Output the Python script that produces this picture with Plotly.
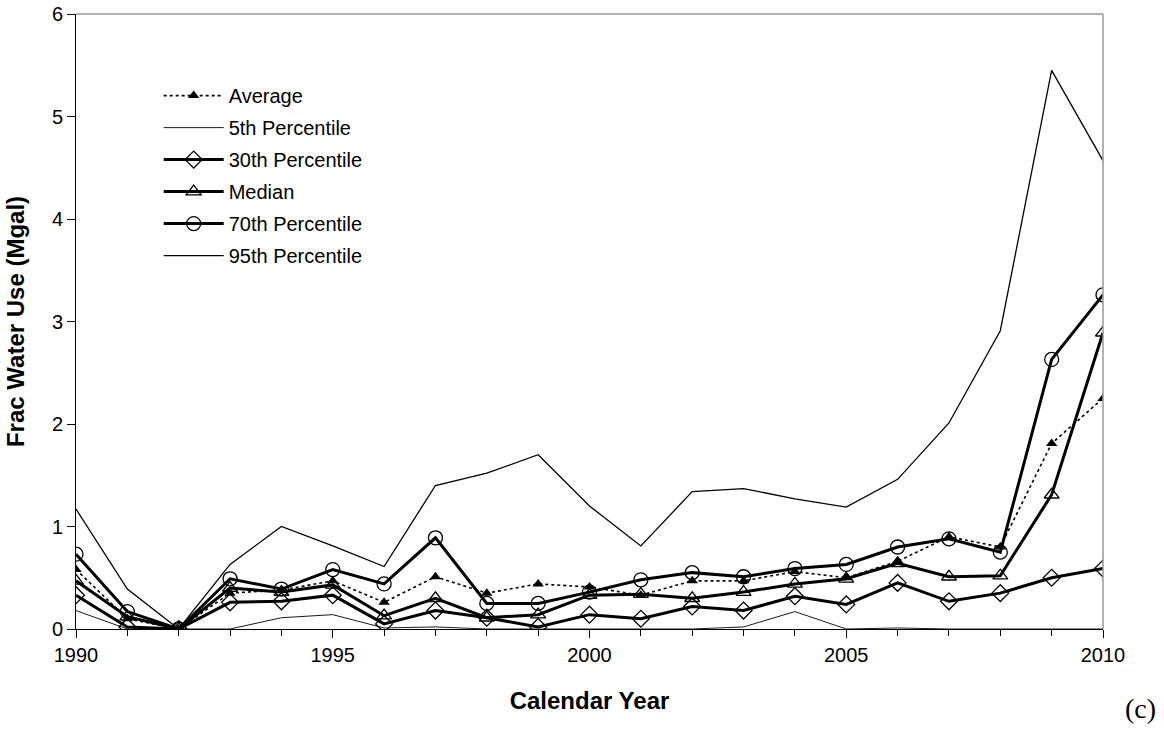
import plotly.graph_objects as go

years = list(range(1990, 2011))
average = [0.58, 0.10, 0.00, 0.35, 0.38, 0.47, 0.26, 0.51, 0.35, 0.44, 0.41, 0.33, 0.47, 0.47, 0.56, 0.50, 0.66, 0.90, 0.80, 1.81, 2.25]
p5 = [0.18, 0.00, 0.00, 0.00, 0.11, 0.14, 0.01, 0.02, 0.00, 0.00, 0.00, 0.00, 0.00, 0.02, 0.17, 0.00, 0.01, 0.00, 0.00, 0.00, 0.00]
p30 = [0.33, 0.02, 0.00, 0.26, 0.27, 0.33, 0.05, 0.18, 0.11, 0.02, 0.14, 0.10, 0.22, 0.18, 0.32, 0.24, 0.45, 0.27, 0.35, 0.50, 0.59]
median = [0.47, 0.12, 0.00, 0.40, 0.36, 0.43, 0.13, 0.30, 0.11, 0.14, 0.33, 0.34, 0.30, 0.36, 0.44, 0.49, 0.64, 0.51, 0.52, 1.31, 2.89]
p70 = [0.73, 0.17, 0.00, 0.49, 0.39, 0.58, 0.44, 0.89, 0.25, 0.25, 0.36, 0.48, 0.55, 0.51, 0.59, 0.63, 0.80, 0.88, 0.75, 2.63, 3.26]
p95 = [1.17, 0.39, 0.00, 0.63, 1.00, 0.81, 0.61, 1.40, 1.52, 1.70, 1.20, 0.81, 1.34, 1.37, 1.27, 1.19, 1.46, 2.01, 2.91, 5.45, 4.57]

names = ["Average", "5th Percentile", "30th Percentile", "Median", "70th Percentile", "95th Percentile"]

fig = go.Figure()
fig.add_trace(go.Scatter(x=years, y=average, name=names[0], mode="lines+markers", legendgroup="a",
                         line=dict(color="black", width=1.6, dash="3px,3px"),
                         marker=dict(symbol="triangle-up", size=10, color="black")))
fig.add_trace(go.Scatter(x=years, y=p5, name=names[1], mode="lines", legendgroup="b",
                         line=dict(color="black", width=0.9)))
fig.add_trace(go.Scatter(x=years, y=p30, name=names[2], mode="lines+markers", legendgroup="c",
                         line=dict(color="black", width=3),
                         marker=dict(symbol="diamond-open", size=13, color="black", line=dict(width=1.3))))
fig.add_trace(go.Scatter(x=years, y=median, name=names[3], mode="lines+markers", legendgroup="d",
                         line=dict(color="black", width=3),
                         marker=dict(symbol="triangle-up-open", size=13, color="black", line=dict(width=1.3))))
fig.add_trace(go.Scatter(x=years, y=p70, name=names[4], mode="lines+markers", legendgroup="e",
                         line=dict(color="black", width=3),
                         marker=dict(symbol="circle-open", size=14, color="black", line=dict(width=1.3))))
fig.add_trace(go.Scatter(x=years, y=p95, name=names[5], mode="lines", legendgroup="f",
                         line=dict(color="black", width=1.3)))

font = "Liberation Sans, Arial, sans-serif"
fig.update_layout(
    width=1164, height=734,
    margin=dict(l=76, r=61, t=14, b=105),
    paper_bgcolor="white", plot_bgcolor="white",
    font=dict(family=font, size=20, color="black"),
    showlegend=True,
    legend=dict(x=0.0805, y=0.899, xanchor="left", yanchor="top", bgcolor="rgba(0,0,0,0)",
                font=dict(size=20), tracegroupgap=3, itemwidth=60),
    xaxis=dict(range=[1990, 2010], dtick=5, tick0=1990, ticks="outside", ticklen=8, tickcolor="black",
               showgrid=False, zeroline=False, showline=True, linecolor="black", linewidth=1,
               minor=dict(dtick=1, ticks="outside", ticklen=6, tickcolor="black"),
               title=dict(text="<b>Calendar Year</b>", font=dict(size=24), standoff=27),
               tickfont=dict(size=20), automargin=False, ticklabeloverflow="allow"),
    yaxis=dict(range=[0, 6], dtick=1, ticks="outside", ticklen=8, tickcolor="black",
               showgrid=False, zeroline=False, showline=True, linecolor="black", linewidth=1,
               title=dict(text="<b>Frac Water Use (Mgal)</b>", font=dict(size=24), standoff=20),
               tickfont=dict(size=20), automargin=False, ticklabeloverflow="allow"),
    shapes=[
        dict(type="line", xref="paper", yref="paper", x0=0, x1=1, y0=1, y1=1, line=dict(color="#999", width=1.5)),
        dict(type="line", xref="paper", yref="paper", x0=1, x1=1, y0=0, y1=1, line=dict(color="#999", width=1.5)),
    ],
    annotations=[dict(text="(c)", xref="paper", yref="paper", x=1.037, y=-0.130, xanchor="center", yanchor="middle",
                      showarrow=False, font=dict(family="Liberation Serif, Times New Roman, serif", size=28))],
)

fig.write_html("out.html", config={"displayModeBar": False},
               post_script="document.body.style.margin='0px';")
